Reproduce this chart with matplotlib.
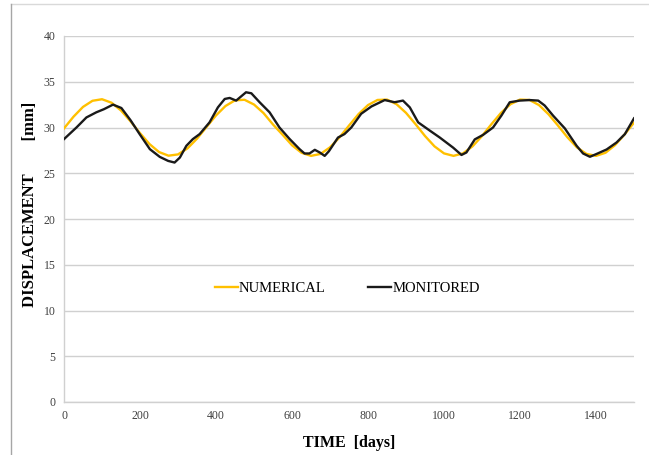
import numpy as np
import matplotlib
matplotlib.use('Agg')
from matplotlib import pyplot as plt
from matplotlib.lines import Line2D

# numerical model
num_t = [0, 25, 50, 75, 100, 125, 150, 175, 200, 225, 250, 275, 300, 325, 350,
         375, 400, 425, 450, 475, 500, 525, 550, 575, 600, 625, 650, 675, 700,
         725, 750, 775, 800, 825, 850, 875, 900, 925, 950, 975, 1000, 1025,
         1050, 1075, 1100, 1125, 1150, 1175, 1200, 1225, 1250, 1275, 1300,
         1325, 1350, 1375, 1400, 1425, 1450, 1475, 1500]
num_v = [29.9, 31.18, 32.25, 32.92, 33.09, 32.71, 31.86, 30.68, 29.38, 28.19,
         27.32, 26.92, 27.06, 27.72, 28.78, 30.05, 31.32, 32.35, 32.97, 33.03,
         32.51, 31.58, 30.33, 29.22, 28.06, 27.24, 26.9, 27.11, 27.83, 28.92,
         30.21, 31.46, 32.45, 33.01, 33.05, 32.55, 31.6, 30.37, 29.07, 27.94,
         27.17, 26.9, 27.17, 27.94, 29.07, 30.37, 31.6, 32.55, 33.05, 33.01,
         32.45, 31.45, 30.21, 28.92, 27.82, 27.11, 26.9, 27.24, 28.07, 29.23,
         30.53]

# monitored displacement
mon_t = [0, 33, 59, 85, 105, 129, 151, 175, 199, 226, 252, 274, 291, 305, 322,
         339, 357, 383, 405, 423, 436, 453, 479, 493, 515, 541, 567, 594, 620,
         633, 646, 660, 673, 686, 697, 721, 738, 756, 782, 809, 844, 870, 892,
         910, 932, 963, 989, 1024, 1046, 1059, 1081, 1103, 1129, 1151, 1173,
         1199, 1225, 1248, 1265, 1287, 1318, 1349, 1366, 1384, 1401, 1428,
         1454, 1476, 1500]
mon_v = [28.73, 30.01, 31.1, 31.66, 32.0, 32.5, 32.13, 30.8, 29.28, 27.63,
         26.79, 26.35, 26.17, 26.72, 28.0, 28.73, 29.28, 30.56, 32.2, 33.12,
         33.23, 32.94, 33.85, 33.74, 32.75, 31.66, 30.0, 28.73, 27.63, 27.16,
         27.16, 27.56, 27.27, 26.9, 27.4, 28.9, 29.28, 30.0, 31.5, 32.3, 33.0,
         32.76, 32.94, 32.2, 30.56, 29.65, 28.9, 27.8, 27.0, 27.27, 28.7,
         29.2, 30.0, 31.3, 32.76, 32.94, 33.0, 32.94, 32.4, 31.3, 29.9, 28.0,
         27.16, 26.8, 27.1, 27.6, 28.36, 29.28, 31.0]

x_ticks = [0, 200, 400, 600, 800, 1000, 1200, 1400]
y_ticks = [0, 5, 10, 15, 20, 25, 30, 35, 40]

plt.rcParams['font.family'] = ['Liberation Serif', 'DejaVu Serif']

fig = plt.figure(figsize=(6.49, 4.55), dpi=100)
ax = fig.add_axes([64/649, 1 - 402/455, 570/649, 366/455])

ax.plot(num_t, num_v, color='#ffc000', lw=1.7, label='NUMERICAL', zorder=3,
        solid_joinstyle='round')
ax.plot(mon_t, mon_v, color='#1a1a1a', lw=1.7, label='MONITORED', zorder=4,
        solid_joinstyle='round')

ax.set_xlim(0, 1500)
ax.set_ylim(0, 40)
ax.set_xticks(x_ticks)
ax.set_yticks(y_ticks)
ax.tick_params(length=0, labelsize=8.5, labelcolor='#404040', pad=6)
ax.grid(axis='y', color='#d0d0d0', lw=1)
ax.set_axisbelow(True)
for s in ['top', 'right']:
    ax.spines[s].set_visible(False)
for s in ['left', 'bottom']:
    ax.spines[s].set_color('#d0d0d0')
    ax.spines[s].set_linewidth(1)

ax.set_xlabel('TIME  [days]', fontsize=11.5, fontweight='bold', labelpad=9)
ax.set_ylabel('DISPLACEMENT        [mm]', fontsize=12, fontweight='bold')
ax.yaxis.set_label_coords(-0.045, 0.54)

ax.legend(loc='center', bbox_to_anchor=(0.497, 0.31), ncol=2, frameon=False,
          fontsize=10.5, handlelength=1.6, handletextpad=0.05, columnspacing=2.9)

# outer frame lines of the original picture
fig.add_artist(Line2D([11/649, 1], [1 - 4/455, 1 - 4/455], color='#d9d9d9', lw=1))
fig.add_artist(Line2D([11/649, 11/649], [0, 1 - 4/455], color='#a6a6a6', lw=1))

fig.savefig('out.png', dpi=100)
